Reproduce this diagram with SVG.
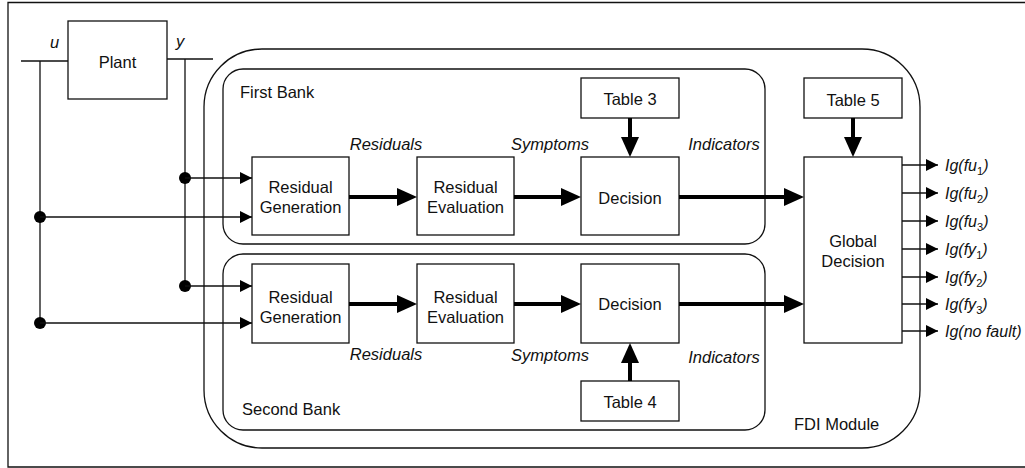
<svg xmlns="http://www.w3.org/2000/svg" width="1025" height="468" viewBox="0 0 1025 468">
  <style>
    .box { fill: #fff; stroke: #111; stroke-width: 1.3; }
    .group { fill: none; stroke: #111; stroke-width: 1.3; }
    .wire { fill: none; stroke: #111; stroke-width: 1.3; }
    .thin { fill: none; stroke: #111; stroke-width: 1.3; marker-end: url(#headThin); }
    .thick { fill: none; stroke: #000; stroke-width: 4; marker-end: url(#headThick); }
    .dot { fill: #000; }
    text { font-family: "Liberation Sans", Arial, sans-serif; font-size: 16.5px; fill: #111; }
    .c { text-anchor: middle; }
    .it { font-style: italic; }
    .out { font-size: 16px; font-style: italic; }
  </style>
  <defs>
    <marker id="headThin" viewBox="0 -6 12 12" refX="12" refY="0" markerWidth="12" markerHeight="12" markerUnits="userSpaceOnUse" orient="auto">
      <path d="M0,-6 L12,0 L0,6 z" fill="#000"/>
    </marker>
    <marker id="headThick" viewBox="0 -9 20 18" refX="2" refY="0" markerWidth="20" markerHeight="18" markerUnits="userSpaceOnUse" orient="auto">
      <path d="M0,-9 L20,0 L0,9 z" fill="#000"/>
    </marker>
  </defs>

  <rect width="1025" height="468" fill="#fff"/>

  <!-- page frame -->
  <path d="M1025,2.5 H8 V467 H1025" class="wire" stroke-width="1.6"/>

  <!-- module and bank containers -->
  <g id="fdi-module">
    <rect class="group" x="204" y="49" width="716" height="399" rx="58" ry="58"/>
    <text x="794" y="430">FDI Module</text>
  </g>
  <g id="first-bank">
    <rect class="group" x="223" y="69" width="542" height="175" rx="20" ry="20"/>
    <text x="240" y="98">First Bank</text>
  </g>
  <g id="second-bank">
    <rect class="group" x="223" y="254" width="542" height="176" rx="20" ry="20"/>
    <text x="242" y="415">Second Bank</text>
  </g>

  <!-- plant -->
  <g id="plant">
    <rect class="box" x="68" y="21" width="99" height="78"/>
    <text class="c" x="117.5" y="68">Plant</text>
  </g>

  <!-- first bank blocks -->
  <g id="residual-generation-1">
    <rect class="box" x="252" y="157" width="97" height="78"/>
    <text class="c" x="300.5" y="193">Residual</text>
    <text class="c" x="300.5" y="213">Generation</text>
  </g>
  <g id="residual-evaluation-1">
    <rect class="box" x="417" y="157" width="97" height="78"/>
    <text class="c" x="465.5" y="193">Residual</text>
    <text class="c" x="465.5" y="213">Evaluation</text>
  </g>
  <g id="decision-1">
    <rect class="box" x="581" y="157" width="98" height="78"/>
    <text class="c" x="630" y="204">Decision</text>
  </g>
  <g id="table-3">
    <rect class="box" x="581" y="78" width="98" height="40"/>
    <text class="c" x="630" y="105">Table 3</text>
  </g>

  <!-- second bank blocks -->
  <g id="residual-generation-2">
    <rect class="box" x="252" y="264" width="97" height="79"/>
    <text class="c" x="300.5" y="303">Residual</text>
    <text class="c" x="300.5" y="323">Generation</text>
  </g>
  <g id="residual-evaluation-2">
    <rect class="box" x="417" y="264" width="97" height="79"/>
    <text class="c" x="465.5" y="303">Residual</text>
    <text class="c" x="465.5" y="323">Evaluation</text>
  </g>
  <g id="decision-2">
    <rect class="box" x="581" y="264" width="98" height="79"/>
    <text class="c" x="630" y="310">Decision</text>
  </g>
  <g id="table-4">
    <rect class="box" x="581" y="381" width="98" height="40"/>
    <text class="c" x="630" y="408">Table 4</text>
  </g>

  <!-- global decision -->
  <g id="table-5">
    <rect class="box" x="804" y="78" width="98" height="40"/>
    <text class="c" x="853" y="106">Table 5</text>
  </g>
  <g id="global-decision">
    <rect class="box" x="804" y="157" width="98" height="186"/>
    <text class="c" x="853" y="247">Global</text>
    <text class="c" x="853" y="267">Decision</text>
  </g>

  <!-- connectors -->
  <g id="connectors">
    <!-- input u and output y wiring -->
    <path class="wire" d="M21,61 H68 M40,61 V323"/>
    <path class="wire" d="M167,59 H213 M185,59 V286"/>
    <circle class="dot" cx="185" cy="178" r="6"/>
    <circle class="dot" cx="40" cy="217" r="6"/>
    <circle class="dot" cx="185" cy="286" r="6"/>
    <circle class="dot" cx="40" cy="323" r="6"/>
    <path class="thin" d="M185,178 H252"/>
    <path class="thin" d="M40,217 H252"/>
    <path class="thin" d="M185,286 H252"/>
    <path class="thin" d="M40,323 H252"/>

    <!-- signal chain, first bank -->
    <path class="thick" d="M349,197 H399"/>
    <path class="thick" d="M514,197 H563"/>
    <path class="thick" d="M679,197 H786"/>
    <path class="thick" d="M630,118 V139"/>

    <!-- signal chain, second bank -->
    <path class="thick" d="M349,304 H399"/>
    <path class="thick" d="M514,304 H563"/>
    <path class="thick" d="M679,304 H786"/>
    <path class="thick" d="M630,381 V361"/>

    <!-- table 5 to global decision -->
    <path class="thick" d="M853,118 V139"/>

    <!-- fault indicator outputs -->
    <path class="thin" d="M902,165 H938"/>
    <path class="thin" d="M902,193 H938"/>
    <path class="thin" d="M902,221 H938"/>
    <path class="thin" d="M902,249 H938"/>
    <path class="thin" d="M902,277 H938"/>
    <path class="thin" d="M902,304 H938"/>
    <path class="thin" d="M902,331 H938"/>
  </g>

  <!-- signal labels -->
  <g id="signal-labels">
    <text class="it" x="50" y="48">u</text>
    <text class="it" x="176" y="47">y</text>
    <text class="it c" x="386" y="150">Residuals</text>
    <text class="it c" x="550" y="150">Symptoms</text>
    <text class="it c" x="724" y="150">Indicators</text>
    <text class="it c" x="386" y="360">Residuals</text>
    <text class="it c" x="550" y="361">Symptoms</text>
    <text class="it c" x="724" y="363">Indicators</text>
  </g>

  <g id="outputs">
    <text class="out" x="945" y="171">Ig(fu<tspan font-size="11" font-style="normal" dy="4">1</tspan><tspan dy="-4">)</tspan></text>
    <text class="out" x="945" y="199">Ig(fu<tspan font-size="11" font-style="normal" dy="4">2</tspan><tspan dy="-4">)</tspan></text>
    <text class="out" x="945" y="227">Ig(fu<tspan font-size="11" font-style="normal" dy="4">3</tspan><tspan dy="-4">)</tspan></text>
    <text class="out" x="945" y="255">Ig(fy<tspan font-size="11" font-style="normal" dy="4">1</tspan><tspan dy="-4">)</tspan></text>
    <text class="out" x="945" y="283">Ig(fy<tspan font-size="11" font-style="normal" dy="4">2</tspan><tspan dy="-4">)</tspan></text>
    <text class="out" x="945" y="310">Ig(fy<tspan font-size="11" font-style="normal" dy="4">3</tspan><tspan dy="-4">)</tspan></text>
    <text class="out" x="945" y="337">Ig(no fault)</text>
  </g>
</svg>
